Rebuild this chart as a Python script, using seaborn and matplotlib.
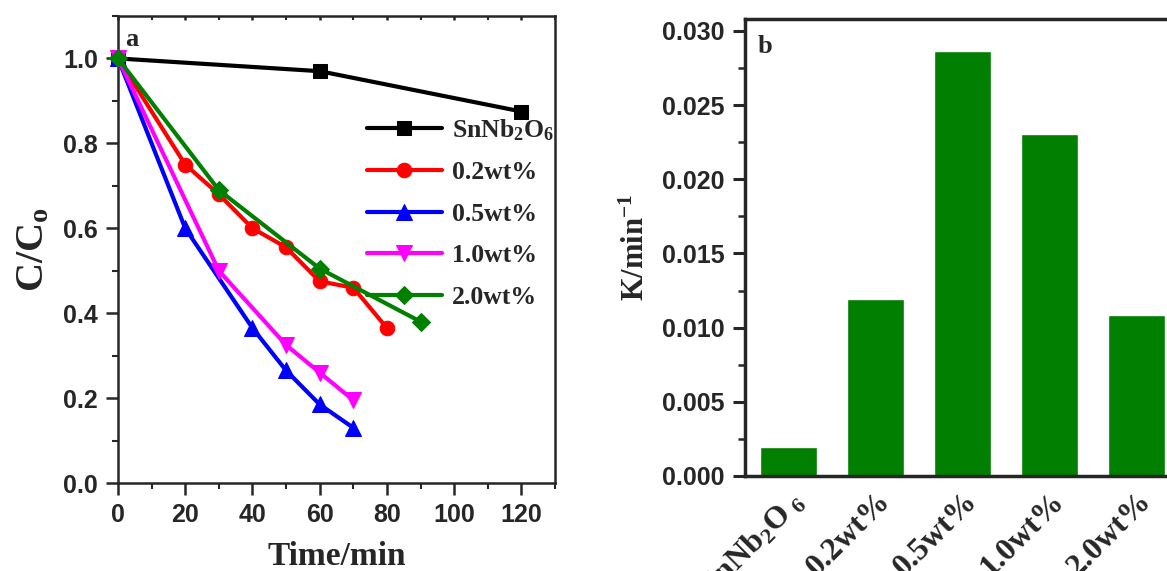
import numpy as np
import pandas as pd
import matplotlib
matplotlib.use("Agg")
import matplotlib.pyplot as plt
import seaborn as sns
from matplotlib.ticker import MultipleLocator

# ---- data (panel a) ----
time_snnb = [0, 60, 120]
c_snnb = [1.0, 0.97, 0.875]
time_02 = [0, 20, 30, 40, 50, 60, 70, 80]
c_02 = [1.0, 0.75, 0.68, 0.60, 0.555, 0.475, 0.46, 0.365]
time_05 = [0, 20, 40, 50, 60, 70]
c_05 = [1.0, 0.60, 0.365, 0.265, 0.185, 0.13]
time_10 = [0, 30, 50, 60, 70]
c_10 = [1.0, 0.50, 0.325, 0.26, 0.195]
time_20 = [0, 30, 60, 90]
c_20 = [1.0, 0.69, 0.505, 0.38]
series_labels = ["SnNb$_2$O$_6$", "0.2wt%", "0.5wt%", "1.0wt%", "2.0wt%"]

# ---- data (panel b) ----
bar_labels = ["SnNb$_2$O$\\,_6$", "0.2wt%", "0.5wt%", "1.0wt%", "2.0wt%"]
k_values = [0.00196, 0.01193, 0.02867, 0.02303, 0.01085]

sns.set_theme(style="ticks")
plt.rcParams["font.family"] = ["Liberation Sans", "DejaVu Sans"]
plt.rcParams["mathtext.default"] = "regular"
plt.rcParams["axes.linewidth"] = 1.8

SERIF = ["Liberation Serif", "DejaVu Serif"]

fig = plt.figure(figsize=(11.67, 5.71), dpi=100)
ax1 = fig.add_axes([0.1011, 0.1541, 0.3745, 0.8179])
ax2 = fig.add_axes([0.6384, 0.1664, 0.3728, 0.8003])

series = [
    (time_snnb, c_snnb, "black", "s", 9.5),
    (time_02, c_02, "#FF0000", "o", 10.5),
    (time_05, c_05, "#0000FF", "^", 11.5),
    (time_10, c_10, "#FF00FF", "v", 11.5),
    (time_20, c_20, "#008000", "D", 9.5),
]
for (t, c, col, mk, ms), lab in zip(series, series_labels):
    df = pd.DataFrame({"t": t, "c": c})
    sns.lineplot(data=df, x="t", y="c", ax=ax1, color=col, marker=mk,
                 markersize=ms, markeredgecolor=col, linewidth=3,
                 label=lab, clip_on=False, zorder=3)

ax1.set_xlim(0, 130)
ax1.set_ylim(0, 1.1)
ax1.xaxis.set_major_locator(MultipleLocator(20))
ax1.xaxis.set_minor_locator(MultipleLocator(10))
ax1.yaxis.set_major_locator(MultipleLocator(0.2))
ax1.yaxis.set_minor_locator(MultipleLocator(0.1))
ax1.yaxis.set_major_formatter(matplotlib.ticker.FormatStrFormatter("%.1f"))
ax1.tick_params(axis="both", which="major", length=8.5, width=1.8,
                labelsize=18, direction="out", pad=6)
ax1.tick_params(axis="both", which="minor", length=4.5, width=1.5, direction="out")
ax1.tick_params(axis="x", which="both", top=True)
for lbl in ax1.get_xticklabels() + ax1.get_yticklabels():
    lbl.set_fontweight("bold")
ax1.set_xlabel("Time/min", fontsize=24, fontweight="bold", family=SERIF, labelpad=10)
ax1.set_ylabel("C/C$_o$", fontsize=29, fontweight="bold", family=SERIF, labelpad=8)
ax1.text(0.016, 0.975, "a", transform=ax1.transAxes, fontsize=19,
         fontweight="bold", family=SERIF, va="top", ha="left")
leg = ax1.legend(loc="upper left", bbox_to_anchor=(0.57, 0.783), frameon=False,
                 handlelength=2.9, handletextpad=0.4, labelspacing=0.72,
                 borderaxespad=0, borderpad=0,
                 prop={"family": SERIF, "weight": "bold", "size": 18.5})
# top-spine ticks are short and inward
for tick in ax1.xaxis.get_major_ticks() + ax1.xaxis.get_minor_ticks():
    tick.tick2line.set_markersize(3)
    tick.tick2line.set_marker(matplotlib.lines.TICKDOWN)

# ---- panel b ----
dfb = pd.DataFrame({"cat": list(range(5)), "k": k_values})
sns.barplot(data=dfb, x="cat", y="k", ax=ax2, color="#007F00", saturation=1,
            width=0.655)
ax2.set_xlim(-0.5, 4.5)
ax2.set_ylim(0, 0.0308)
ax2.yaxis.set_major_locator(MultipleLocator(0.005))
ax2.yaxis.set_minor_locator(MultipleLocator(0.0025))
ax2.yaxis.set_major_formatter(matplotlib.ticker.FormatStrFormatter("%.3f"))
ax2.tick_params(axis="y", which="major", length=8.5, width=2.2, labelsize=18, pad=6)
ax2.tick_params(axis="y", which="minor", length=5, width=1.8)
ax2.tick_params(axis="x", length=0, pad=8)
for sp in ax2.spines.values():
    sp.set_linewidth(2.5)
for lbl in ax2.get_yticklabels():
    lbl.set_fontweight("bold")
ax2.set_xticks(range(5))
ax2.set_xticklabels(bar_labels, rotation=45, ha="right", va="top",
                    rotation_mode="anchor", fontsize=23, fontweight="bold",
                    family=SERIF)
ax2.set_xlabel("")
ax2.set_ylabel("K/min$^{-1}$", fontsize=22, fontweight="bold", family=SERIF,
               labelpad=8)
ax2.text(0.028, 0.965, "b", transform=ax2.transAxes, fontsize=19,
         fontweight="bold", family=SERIF, va="top", ha="left")

fig.savefig("out.png", dpi=100)
